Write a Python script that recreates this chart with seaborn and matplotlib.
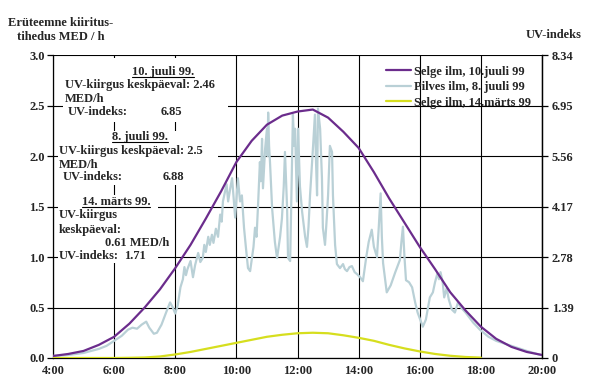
import pandas as pd
import seaborn as sns
import matplotlib.pyplot as plt
from matplotlib.patches import Rectangle
from matplotlib.lines import Line2D

# selge ilm, 10. juuli 99 (MED/h)
clear_july_hours = [4.0, 4.5, 5.0, 5.5, 6.0, 6.5, 7.0, 7.5, 8.0, 8.5, 9.0, 9.5, 10.0,
                    10.5, 11.0, 11.5, 12.0, 12.5, 13.0, 13.5, 14.0, 14.5, 15.0, 15.5,
                    16.0, 16.5, 17.0, 17.5, 18.0, 18.5, 19.0, 19.5, 20.0]
clear_july_med = [0.02, 0.04, 0.07, 0.13, 0.21, 0.34, 0.50, 0.68, 0.89, 1.12, 1.38, 1.65,
                  1.94, 2.15, 2.31, 2.40, 2.44, 2.46, 2.38, 2.24, 2.08, 1.84, 1.58, 1.34,
                  1.10, 0.88, 0.65, 0.47, 0.31, 0.19, 0.11, 0.06, 0.03]

# pilves ilm, 8. juuli 99
cloudy_hours = [4.00, 4.50, 5.00, 5.50, 5.75, 6.00, 6.25, 6.45, 6.60, 6.75,
                6.90, 7.05, 7.15, 7.30, 7.40, 7.55, 7.70, 7.83, 7.92, 8.00,
                8.08, 8.17, 8.25, 8.30, 8.35, 8.40, 8.50, 8.58, 8.65, 8.75,
                8.82, 8.90, 8.95, 9.00, 9.08, 9.13, 9.20, 9.25, 9.33, 9.40,
                9.47, 9.52, 9.56, 9.63, 9.68, 9.73, 9.80, 9.86, 9.96, 10.05,
                10.12, 10.18, 10.25, 10.31, 10.38, 10.45, 10.51, 10.56, 10.61, 10.66,
                10.71, 10.77, 10.80, 10.84, 10.87, 10.94, 11.00, 11.02, 11.04, 11.07,
                11.10, 11.17, 11.26, 11.33, 11.36, 11.43, 11.49, 11.55, 11.59, 11.62,
                11.66, 11.69, 11.76, 11.82, 11.85, 11.89, 11.92, 11.98, 12.02, 12.08,
                12.15, 12.25, 12.31, 12.36, 12.41, 12.46, 12.51, 12.57, 12.60, 12.64,
                12.67, 12.74, 12.80, 12.83, 12.90, 12.95, 13.00, 13.06, 13.13, 13.16,
                13.23, 13.29, 13.39, 13.49, 13.55, 13.62, 13.70, 13.78, 13.87, 13.95,
                14.05, 14.14, 14.25, 14.33, 14.43, 14.50, 14.60, 14.66, 14.72, 14.76,
                14.80, 14.92, 15.05, 15.20, 15.35, 15.40, 15.45, 15.50, 15.55, 15.65,
                15.75, 15.85, 15.93, 16.10, 16.20, 16.33, 16.43, 16.50, 16.58, 16.63,
                16.68, 16.75, 16.80, 16.88, 16.95, 17.05, 17.15, 17.25, 17.35, 17.50,
                17.75, 17.97, 18.25, 18.50, 19.00, 19.50, 19.95]
cloudy_med = [0.02, 0.03, 0.05, 0.09, 0.12, 0.17, 0.22, 0.28, 0.30, 0.29,
              0.33, 0.36, 0.30, 0.24, 0.25, 0.33, 0.45, 0.55, 0.50, 0.44,
              0.52, 0.70, 0.78, 0.90, 0.82, 0.88, 0.96, 0.80, 0.92, 1.04,
              0.95, 0.99, 1.12, 1.05, 1.20, 1.12, 1.22, 1.14, 1.28, 1.20,
              1.42, 1.35, 1.55, 1.65, 1.72, 1.55, 1.68, 1.78, 1.39, 1.78,
              1.55, 1.61, 1.29, 1.10, 0.89, 0.86, 0.99, 1.10, 1.29, 1.20,
              1.52, 1.94, 1.75, 2.17, 1.68, 2.07, 2.27, 2.00, 2.43, 2.10,
              1.94, 1.48, 1.15, 0.99, 1.05, 1.20, 1.38, 1.70, 2.04, 1.80,
              1.48, 0.99, 0.96, 1.94, 2.41, 2.10, 2.27, 1.55, 2.27, 1.70,
              1.45, 1.20, 1.10, 1.30, 1.61, 1.85, 2.10, 2.41, 2.00, 1.61,
              2.47, 2.27, 1.78, 1.29, 1.12, 1.35, 1.61, 2.10, 2.04, 1.61,
              1.12, 0.93, 0.89, 0.93, 0.88, 0.86, 0.90, 0.91, 0.85, 0.83,
              0.80, 0.76, 1.00, 1.15, 1.27, 1.10, 1.00, 1.30, 1.63, 1.20,
              0.94, 0.65, 0.72, 0.85, 0.97, 1.15, 1.30, 1.00, 0.77, 0.75,
              0.70, 0.55, 0.45, 0.31, 0.38, 0.60, 0.65, 0.75, 0.84, 0.78,
              0.85, 0.75, 0.60, 0.69, 0.58, 0.48, 0.45, 0.55, 0.50, 0.45,
              0.35, 0.28, 0.21, 0.17, 0.12, 0.07, 0.03]

# selge ilm, 14. märts 99
march_hours = [4.0, 5.0, 6.0, 6.5, 7.0, 7.5, 8.0, 8.5, 9.0, 9.5, 10.0, 10.5, 11.0,
               11.5, 12.0, 12.5, 13.0, 13.5, 14.0, 14.5, 15.0, 15.5, 16.0, 16.5,
               17.0, 17.5, 18.0]
march_med = [0.0, 0.0, 0.0, 0.002, 0.005, 0.015, 0.035, 0.06, 0.09, 0.12, 0.15, 0.18,
             0.21, 0.23, 0.245, 0.25, 0.245, 0.225, 0.20, 0.17, 0.13, 0.095, 0.065,
             0.04, 0.022, 0.01, 0.004]

series_names = ["Selge ilm, 10.juuli 99", "Pilves ilm, 8. juuli 99", "Selge ilm, 14.märts 99"]
series_colors = ["#6b2c8c", "#b9d0d6", "#d6de1e"]

x_ticks = [4, 6, 8, 10, 12, 14, 16, 18, 20]
x_labels = ["4:00", "6:00", "8:00", "10:00", "12:00", "14:00", "16:00", "18:00", "20:00"]
left_ticks = [0.0, 0.5, 1.0, 1.5, 2.0, 2.5, 3.0]
right_ticks = [0, 1.39, 2.78, 4.17, 5.56, 6.95, 8.34]
right_labels = ["0", "1.39", "2.78", "4.17", "5.56", "6.95", "8.34"]

sns.set_style("white")
plt.rcParams["font.family"] = ["Liberation Serif", "DejaVu Serif"]
plt.rcParams["font.weight"] = "bold"
plt.rcParams["font.size"] = 9

df = pd.concat([
    pd.DataFrame({"hour": clear_july_hours, "med": clear_july_med, "series": series_names[0]}),
    pd.DataFrame({"hour": cloudy_hours, "med": cloudy_med, "series": series_names[1]}),
    pd.DataFrame({"hour": march_hours, "med": march_med, "series": series_names[2]}),
])

fig = plt.figure(figsize=(5.95, 3.87), dpi=100)
ax = fig.add_axes([53 / 595, 1 - 358 / 387, 489 / 595, 303 / 387])

# gray first so the clear-day curve sits on top
for idx in [1, 2, 0]:
    sub = df[df["series"] == series_names[idx]]
    sns.lineplot(data=sub, x="hour", y="med", ax=ax, color=series_colors[idx],
                 linewidth=1.6, label=series_names[idx], sort=False, estimator=None,
                 zorder=5 if idx == 0 else 4)

ax.set_xlim(4, 20)
ax.set_ylim(0, 3.0)
ax.set_xticks(x_ticks, x_labels)
ax.set_yticks(left_ticks, [f"{t:.1f}" for t in left_ticks])
ax.set_xlabel("")
ax.set_ylabel("")
ax.grid(True, color="black", linewidth=0.8, zorder=1)
ax.set_axisbelow(True)
for sp in ax.spines.values():
    sp.set_color("black")
    sp.set_linewidth(0.9)
ax.spines["top"].set_visible(False)
ax.tick_params(axis="y", direction="out", length=4, width=0.9, color="black", pad=2)
ax.tick_params(axis="x", direction="out", length=2, width=0.9, color="black", pad=3)

ax2 = ax.twinx()
ax2.set_ylim(0, 8.34)
ax2.set_yticks(right_ticks, right_labels)
ax2.tick_params(axis="y", direction="out", length=4, width=0.9, color="black", pad=3)
for sp in ax2.spines.values():
    sp.set_visible(False)
ax2.spines["right"].set_visible(True)
ax2.spines["right"].set_linewidth(0.9)
ax2.spines["right"].set_color("black")

# white boxes behind the notes
for (x0, y0, w, h) in [(0.020, 0.779, 0.338, 0.21), (0.010, 0.571, 0.327, 0.178),
                       (0.010, 0.314, 0.205, 0.224)]:
    ax.add_patch(Rectangle((x0, y0), w, h, transform=ax.transAxes, facecolor="white",
                           edgecolor="none", zorder=2))

notes = [
    (0.225, 0.944, "10. juuli 99.", "center", True),
    (0.0245, 0.901, "UV-kiirgus keskpäeval: 2.46", "left", False),
    (0.0245, 0.855, "MED/h", "left", False),
    (0.031, 0.812, "UV-indeks:", "left", False),
    (0.221, 0.812, "6.85", "left", False),
    (0.178, 0.729, "8. juuli 99.", "center", True),
    (0.012, 0.683, "UV-kiirgus keskpäeval: 2.5", "left", False),
    (0.012, 0.637, "MED/h", "left", False),
    (0.020, 0.597, "UV-indeks:", "left", False),
    (0.225, 0.597, "6.88", "left", False),
    (0.129, 0.515, "14. märts 99.", "center", True),
    (0.012, 0.472, "UV-kiirgus", "left", False),
    (0.012, 0.422, "keskpäeval:", "left", False),
    (0.106, 0.380, "0.61 MED/h", "left", False),
    (0.012, 0.337, "UV-indeks:", "left", False),
    (0.145, 0.337, "1.71", "left", False),
]
underlined = []
for x, y, s, ha, ul in notes:
    t = ax.text(x, y, s, transform=ax.transAxes, ha=ha, va="center", fontsize=9,
                fontweight="bold", zorder=6)
    if ul:
        underlined.append(t)

handles, labels = ax.get_legend_handles_labels()
order = [labels.index(n) for n in series_names]
leg = ax.legend([handles[i] for i in order], [labels[i] for i in order],
                loc="upper left", bbox_to_anchor=(0.669, 0.985), frameon=False,
                fontsize=9, handlelength=2.0, handletextpad=0.2, labelspacing=0.28,
                borderpad=0.0)
leg.set_zorder(7)

fig.text(61 / 595, 1 - 30 / 387, "Erüteemne kiiritus-\ntihedus MED / h", ha="center",
         va="center", fontsize=9, fontweight="bold", linespacing=1.3)
fig.text(554 / 595, 1 - 35 / 387, "UV-indeks", ha="center", va="center", fontsize=9,
         fontweight="bold")

fig.canvas.draw()
renderer = fig.canvas.get_renderer()
for t in underlined:
    bb = t.get_window_extent(renderer)
    yy = bb.y0 + 1
    fig.add_artist(Line2D([bb.x0, bb.x1], [yy, yy], transform=None, color="black",
                          linewidth=0.8))

fig.savefig("out.png", dpi=100, facecolor="white")
